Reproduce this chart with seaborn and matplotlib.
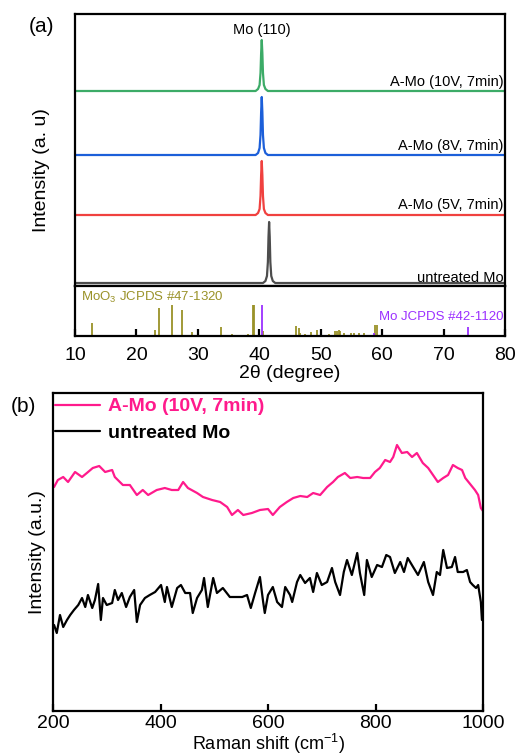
import matplotlib
matplotlib.use("Agg")
import matplotlib.pyplot as plt
import seaborn as sns

# XRD curves (2theta in degree, stacked intensity in a.u.)
tt_10v = [10, 39.4, 39.8, 40.05, 40.2, 40.3, 40.4, 40.5, 40.6, 40.75, 41.0, 41.4, 80]
int_10v = [195, 195, 197, 201, 213, 233, 246, 233, 213, 201, 197, 195, 195]
tt_8v = [10, 39.4, 39.8, 40.05, 40.2, 40.3, 40.4, 40.5, 40.6, 40.75, 41.0, 41.4, 80]
int_8v = [131, 131, 133, 138, 151, 174, 189, 174, 151, 138, 133, 131, 131]
tt_5v = [10, 39.4, 39.8, 40.05, 40.2, 40.3, 40.4, 40.5, 40.6, 40.75, 41.0, 41.4, 80]
int_5v = [71, 71, 73, 77, 90, 111, 125, 111, 90, 77, 73, 71, 71]
tt_raw = [10, 40.6, 41.0, 41.25, 41.4, 41.5, 41.6, 41.7, 41.8, 41.95, 42.2, 42.6, 80]
int_raw = [3, 3, 5, 10, 24, 49, 64, 49, 24, 10, 5, 3, 3]

xrd_labels = ["A-Mo (10V, 7min)", "A-Mo (8V, 7min)", "A-Mo (5V, 7min)", "untreated Mo"]
xrd_colors = ["#3cab67", "#1c5fd9", "#f0413f", "#4d4d4d"]

# reference cards
moo3_pos = [12.8, 23.1, 23.6, 25.8, 27.4, 29.1, 33.7, 35.6, 38.2, 38.9, 39.1, 40.6,
            45.9, 46.4, 46.7, 47.4, 48.4, 49.4, 51.4, 52.3, 52.6, 52.9, 53.2, 53.8,
            54.9, 55.4, 56.3, 57.1, 58.8, 59.1]
moo3_h = [13, 6, 28, 31, 26, 4, 9, 2, 2, 31, 31, 5,
          10, 8, 3, 2, 4, 6, 2, 5, 5, 6, 5, 3,
          3, 3, 3, 3, 11, 11]
mo_pos = [40.5, 58.6, 73.9]
mo_h = [31, 3, 9]

# Raman spectra
pink_shift = [202, 209, 219, 228, 241, 254, 263, 274, 286, 297,
              310, 315, 330, 343, 356, 367, 377, 393, 408, 421,
              433, 442, 451, 468, 479, 496, 511, 524, 533, 544,
              554, 570, 585, 600, 609, 622, 635, 647, 660, 673,
              684, 697, 710, 721, 730, 743, 753, 766, 777, 790,
              799, 808, 818, 827, 833, 840, 849, 859, 868, 877,
              888, 898, 907, 916, 926, 935, 944, 953, 961, 967,
              976, 985, 991, 996, 1000]
pink_int = [224, 231, 234, 229, 239, 234, 238, 243, 245, 239,
            241, 234, 226, 226, 216, 221, 216, 221, 223, 221,
            221, 229, 223, 218, 214, 211, 209, 204, 196, 201,
            196, 198, 201, 202, 196, 204, 209, 213, 215, 214,
            218, 216, 224, 229, 234, 238, 233, 234, 233, 233,
            239, 243, 251, 249, 254, 266, 258, 259, 254, 258,
            248, 243, 236, 229, 233, 236, 246, 243, 241, 233,
            227, 221, 216, 203, 200]
black_shift = [202, 207, 213, 219, 226, 232, 239, 247, 254, 260, 265, 273, 278, 284, 289,
               293, 300, 310, 315, 321, 328, 336, 343, 351, 356, 362, 371, 380, 390, 401,
               408, 412, 421, 431, 438, 446, 455, 460, 468, 477, 481, 488, 498, 505, 516,
               529, 542, 552, 561, 568, 576, 585, 591, 594, 600, 609, 617, 626, 632, 641,
               645, 654, 660, 669, 678, 684, 691, 700, 710, 719, 725, 734, 741, 747, 756,
               766, 771, 779, 784, 793, 803, 812, 820, 827, 836, 846, 853, 860, 870, 879,
               890, 898, 907, 914, 920, 926, 933, 942, 948, 953, 963, 970, 976, 981, 987,
               991, 996, 998, 1000]
black_int = [86, 78, 96, 84, 91, 96, 101, 106, 113, 104, 116, 103, 111, 127, 91,
             113, 106, 108, 121, 111, 118, 104, 114, 121, 89, 106, 113, 116, 119, 126,
             109, 124, 104, 123, 126, 118, 118, 98, 113, 121, 133, 104, 133, 118, 123,
             114, 114, 114, 116, 103, 118, 134, 109, 98, 116, 124, 109, 104, 124, 116,
             109, 129, 136, 128, 133, 119, 138, 126, 129, 143, 129, 116, 139, 151, 136,
             158, 138, 116, 151, 134, 146, 144, 156, 154, 138, 149, 139, 153, 144, 136,
             149, 129, 116, 139, 136, 161, 143, 144, 154, 139, 139, 141, 129, 126, 123,
             126, 109, 91, 91]

sns.set_theme(style="ticks")
plt.rcParams["font.family"] = ["Liberation Sans", "DejaVu Sans"]
plt.rcParams["axes.linewidth"] = 1.6
plt.rcParams["axes.edgecolor"] = "black"
plt.rcParams["axes.labelcolor"] = "black"
plt.rcParams["text.color"] = "black"
plt.rcParams["xtick.color"] = "black"
plt.rcParams["mathtext.fontset"] = "custom"
plt.rcParams["mathtext.rm"] = "Liberation Sans"

W, H = 516, 756
fig = plt.figure(figsize=(W / 100, H / 100), dpi=100)


def box(l, t, r, b):
    return [l / W, 1 - b / H, (r - l) / W, (b - t) / H]


# ---- (a) XRD ----
ax1 = fig.add_axes(box(75, 14, 505, 286))
ax2 = fig.add_axes(box(75, 286, 505, 336))

curves = [(tt_10v, int_10v), (tt_8v, int_8v), (tt_5v, int_5v), (tt_raw, int_raw)]
label_y = [204, 140, 81, 8]
for (xx, yy), lab, col, ly in zip(curves, xrd_labels, xrd_colors, label_y):
    sns.lineplot(x=xx, y=yy, ax=ax1, color=col, linewidth=1.6, sort=False, estimator=None)
    ax1.text(79.8, ly, lab, ha="right", va="center", fontsize=10.5)
ax1.text(40.4, 256, "Mo (110)", ha="center", va="center", fontsize=10.5)
ax1.set_xlim(10, 80)
ax1.set_ylim(0, 272)
ax1.set_xticks([])
ax1.set_yticks([])
ax1.set_xlabel("")
ax1.set_ylabel("")

olive = "#9a9228"
purple = "#9b30ff"
ax2.vlines(moo3_pos, 0, moo3_h, color=olive, linewidth=1.3)
ax2.vlines(mo_pos, 0, mo_h, color=purple, linewidth=1.3)
ax2.set_xlim(10, 80)
ax2.set_ylim(0, 50)
ax2.set_yticks([])
ax2.set_xticks(range(10, 81, 10))
ax2.tick_params(axis="x", direction="in", length=5, width=1.6, labelsize=14, pad=8)
ax2.text(11.0, 39, "MoO$_3$ JCPDS #47-1320", color=olive, fontsize=9.5, va="center", ha="left")
ax2.text(79.7, 19, "Mo JCPDS #42-1120", color=purple, fontsize=9.5, va="center", ha="right")
ax2.set_xlabel("2θ (degree)", fontsize=14, labelpad=1)

fig.text(42 / W, 1 - 170 / H, "Intensity (a. u)", rotation=90, fontsize=14, ha="center", va="center")
fig.text(41 / W, 1 - 27 / H, "(a)", fontsize=15, ha="center", va="center")

# ---- (b) Raman ----
ax3 = fig.add_axes(box(53, 393, 483, 711))
sns.lineplot(x=pink_shift, y=pink_int, ax=ax3, color="#ff1a8c", linewidth=1.6,
             sort=False, estimator=None, label="A-Mo (10V, 7min)")
sns.lineplot(x=black_shift, y=black_int, ax=ax3, color="black", linewidth=1.6,
             sort=False, estimator=None, label="untreated Mo")
ax3.set_xlim(200, 1000)
ax3.set_ylim(0, 318)
ax3.set_xticks(range(200, 1001, 200))
ax3.set_yticks([])
ax3.tick_params(axis="x", direction="in", length=5, width=1.6, labelsize=14, pad=3)
ax3.set_xlabel("Raman shift (cm$^{-1}$)", fontsize=13, labelpad=0)
ax3.set_ylabel("Intensity (a.u.)", fontsize=14, labelpad=5)
leg = ax3.legend(loc="upper left", bbox_to_anchor=(0.005, 0.985), frameon=False,
                 prop={"weight": "bold", "size": 14}, handlelength=2.3,
                 handletextpad=0.4, labelspacing=0.45, borderaxespad=0, borderpad=0)
for txt, col in zip(leg.get_texts(), ["#ff1a8c", "black"]):
    txt.set_color(col)

fig.text(23 / W, 1 - 407 / H, "(b)", fontsize=15, ha="center", va="center")

fig.savefig("out.png", dpi=100)
